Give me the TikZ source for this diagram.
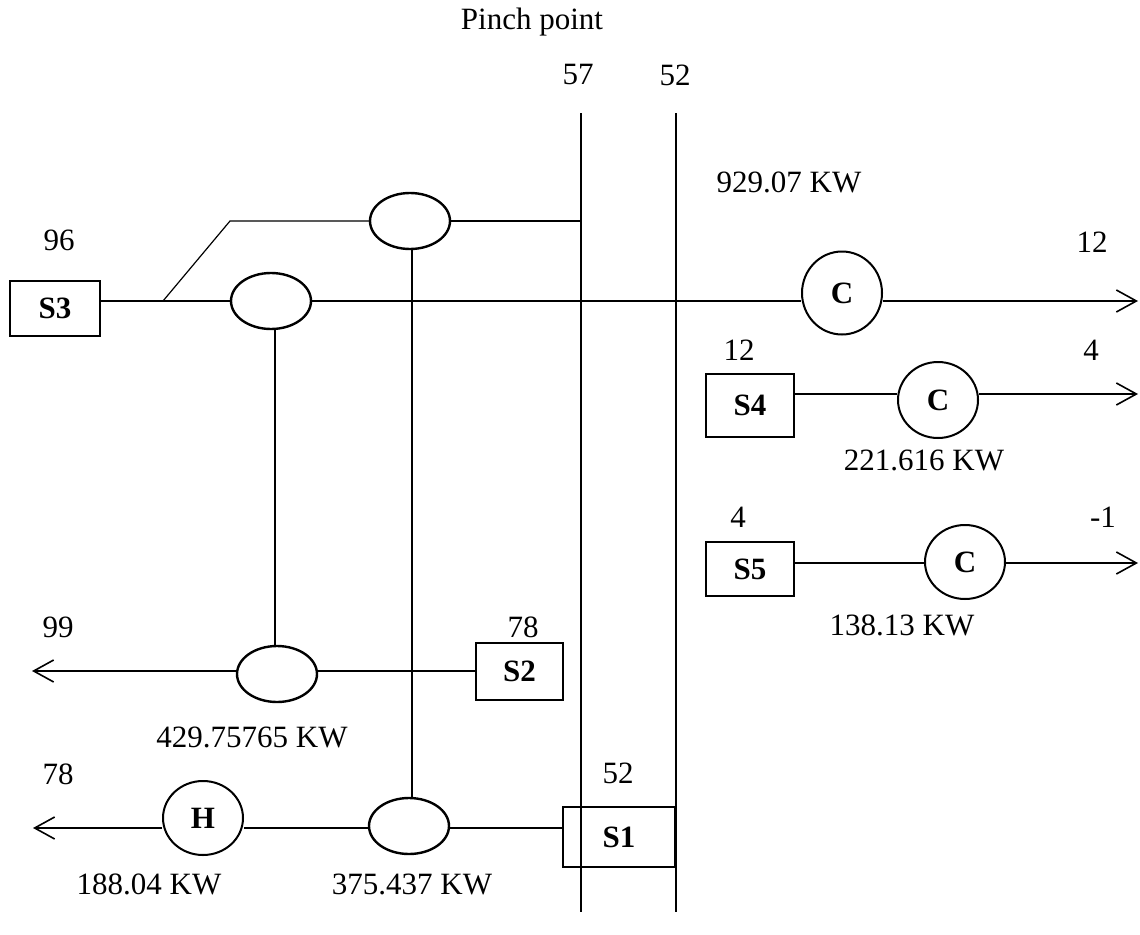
\documentclass[tikz,border=0pt]{standalone}
\usepackage{fontspec}
\setmainfont{Liberation Serif}
\usetikzlibrary{shapes.geometric,arrows.meta}
\begin{document}
\begin{tikzpicture}[x=1pt,y=-1pt,
  every node/.style={font=\fontsize{31}{36}\selectfont, inner sep=0pt},
  streambox/.style={draw, line width=2pt, font=\fontsize{31}{36}\selectfont\bfseries},
  exch/.style={draw, ellipse, line width=2.4pt, minimum width=80pt, minimum height=56pt},
  util/.style={draw, ellipse, line width=2pt, minimum width=80pt, minimum height=76pt, font=\fontsize{31}{36}\selectfont\bfseries},
  stream/.style={line width=2pt},
  thin/.style={line width=1.2pt},
  tip/.style={-{Straight Barb[length=20pt,width=22pt,line width=1.6pt]}}
]
\useasboundingbox (0,0) rectangle (1140,934);

% pinch lines
\coordinate (p1t) at (581,113); \coordinate (p1b) at (581,912);
\coordinate (p2t) at (676,113); \coordinate (p2b) at (676,912);
\draw[thin] (p1t) -- (p1b);
\draw[thin] (p2t) -- (p2b);

% S3 stream
\node[streambox, minimum width=90pt, minimum height=55pt] (S3) at (55,308.5) {S3};
\coordinate (br) at (163,301);
\coordinate (br2) at (230,221);
\node[exch] (E1) at (271,301) {};
\node[exch] (E2) at (410,221) {};
\node[util, minimum height=83pt] (C1) at (842,293) {C};
\coordinate (end1) at (1138,301);
\draw[stream, line width=2.3pt] (S3.east |- br) -- (br) -- (E1.west);
\draw[stream, line width=2.3pt] (E1.east) -- (C1.west |- E1.east);
\draw[stream, line width=2.3pt, tip] (C1.east |- E1.east) -- (end1);
\draw[thin] (br) -- (br2) -- (E2.west);
\draw[thin] (E2.east) -- (E2.east -| p1t);

% S4 stream
\node[streambox, minimum width=88pt, minimum height=63pt] (S4) at (750,405.5) {S4};
\node[util] (C2) at (938,400) {C};
\coordinate (end2) at (1138,394);
\draw[stream] (S4.east |- end2) -- (C2.west |- end2);
\draw[stream,tip] (C2.east |- end2) -- (end2);

% S5 stream
\node[streambox, minimum width=88pt, minimum height=54pt] (S5) at (750,569) {S5};
\node[util, minimum height=74pt] (C3) at (965,562) {C};
\coordinate (end3) at (1138,563);
\draw[stream] (S5.east |- end3) -- (C3.west |- end3);
\draw[stream,tip] (C3.east |- end3) -- (end3);

% S2 stream
\node[streambox, minimum width=87pt, minimum height=57pt] (S2) at (519.5,671.5) {S2};
\node[exch] (E3) at (277,674) {};
\coordinate (end4) at (32,671);
\draw[stream] (S2.west |- end4) -- (E3.east |- end4);
\draw[stream,tip] (E3.west |- end4) -- (end4);

% S1 stream
\node[streambox, minimum width=112pt, minimum height=60pt] (S1) at (619,837) {S1};
\node[exch] (E4) at (409,826) {};
\node[util, minimum height=74pt] (H) at (203,818) {H};
\coordinate (end5) at (33,828);
\draw[stream] (S1.west |- end5) -- (E4.east |- end5);
\draw[stream] (E4.west |- end5) -- (H.east |- end5);
\draw[stream,tip] (H.west |- end5) -- (end5);

% matches
\draw[thin] (E3.north -| 275,0) -- (E1.south -| 275,0);
\draw[thin] (E4.north -| 412,0) -- (E2.south -| 412,0);

% labels
\node[anchor=base] (tpinch) at (532,30) {Pinch point};
\node (t57) at (578,75) {57};
\node (t52a) at (675,75) {52};
\node (tq1) at (789,182) {929.07 KW};
\node (t96) at (59,240) {96};
\node (t12a) at (1092,242) {12};
\node (t12b) at (739,350) {12};
\node (t4a) at (1091,350) {4};
\node (tq2) at (924,460) {221.616 KW};
\node (t4b) at (738,517) {4};
\node (tm1) at (1103,517) {-1};
\node (tq3) at (902,625) {138.13 KW};
\node (t99) at (58,627) {99};
\node (t78a) at (523,627) {78};
\node (tq4) at (252,737) {429.75765 KW};
\node (t78b) at (58,774) {78};
\node (t52b) at (618,773) {52};
\node (tq5) at (149,884) {188.04 KW};
\node (tq6) at (412,884) {375.437 KW};
\end{tikzpicture}
\end{document}
